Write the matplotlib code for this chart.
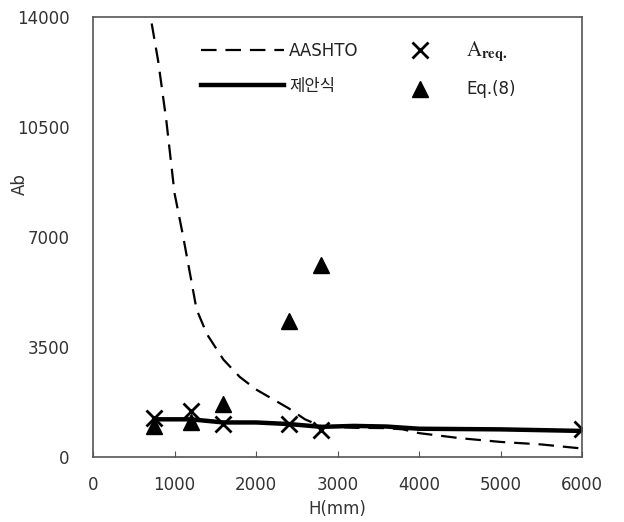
import matplotlib
matplotlib.use("Agg")
import matplotlib.pyplot as plt

plt.rcParams['font.family'] = ['DejaVu Sans', 'Noto Sans CJK KR']
plt.rcParams['mathtext.fontset'] = 'stix'

# --------------------------------------------------
# Data
# --------------------------------------------------

aashto_h = [720, 800, 900, 1000, 1100, 1200, 1270, 1400, 1600, 1800, 2000,
            2200, 2400, 2600, 2800, 3200, 3600, 3800, 4000, 4500, 5000, 5500, 6000]
aashto_ab = [13800, 12600, 10700, 8400, 7100, 5700, 4700, 3900, 3100, 2550, 2150,
             1850, 1550, 1200, 980, 930, 920, 880, 760, 600, 480, 400, 270]

prop_h = [750, 1200, 1600, 2000, 2400, 2800, 3200, 3600, 4000, 5000, 6000]
prop_ab = [1200, 1200, 1100, 1100, 1050, 960, 990, 970, 900, 880, 830]

req_h = [750, 1200, 1600, 2400, 2800, 6000]
req_ab = [1240, 1460, 1050, 1050, 860, 890]

eq8_h = [750, 1200, 1600, 2400, 2800]
eq8_ab = [1000, 1100, 1700, 4330, 6100]

# --------------------------------------------------
# Plot
# --------------------------------------------------

fig = plt.figure(figsize=(6.24, 5.22), dpi=100)
ax = fig.add_axes([0.149, 0.1245, 0.784, 0.8425])

ax.plot(aashto_h, aashto_ab, color="black", lw=1.6, ls=(0, (7, 4)), label="AASHTO")
ax.plot(prop_h, prop_ab, color="black", lw=3.2, label="제안식")
ax.plot(req_h, req_ab, ls="none", marker="x", ms=11, mew=2, color="black",
        label=r"$\mathrm{A}_{\mathbf{req.}}$")
ax.plot(eq8_h, eq8_ab, ls="none", marker="^", ms=11, color="black",
        label="Eq.(8)")

ax.set_xlim(0, 6000)
ax.set_ylim(0, 14000)
ax.set_xticks(range(0, 6001, 1000))
ax.set_yticks([0, 3500, 7000, 10500, 14000])

ax.tick_params(axis="x", direction="in", length=4, pad=14, labelsize=12,
               labelcolor="#333333", color="#555555")
ax.tick_params(axis="y", direction="in", length=0, pad=17, labelsize=12,
               labelcolor="#333333")
for s in ax.spines.values():
    s.set_color("#555555")
    s.set_linewidth(1.2)

ax.set_xlabel("H(mm)", fontsize=12, color="#333333")
ax.set_ylabel("Ab", fontsize=12, color="#333333")
ax.xaxis.set_label_coords(0.5, -0.098)
ax.yaxis.set_label_coords(-0.131, 0.62)

leg = ax.legend(ncol=2, loc="upper left", bbox_to_anchor=(0.19, 0.985),
                frameon=False, fontsize=12, handlelength=5.0,
                handletextpad=0.3, columnspacing=1.15, labelspacing=1.0)
for t in leg.get_texts():
    t.set_color("#222222")
leg.get_texts()[2].set_fontsize(15)

fig.savefig("out.png", dpi=100)
